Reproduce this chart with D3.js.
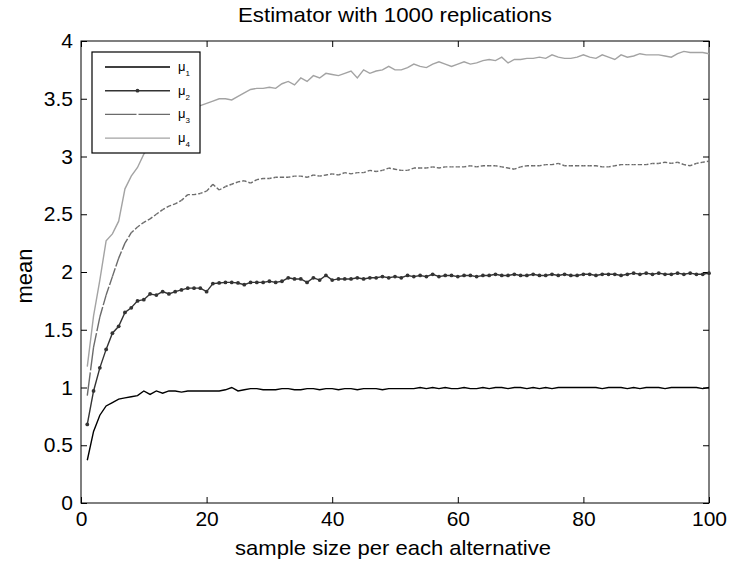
<!DOCTYPE html>
<html>
<head>
<meta charset="utf-8">
<script src="https://cdn.jsdelivr.net/npm/d3@7"></script>
<style>
  body { margin: 0; background: #fff; }
  text { font-family: "Liberation Sans", Arial, sans-serif; fill: #000; }
</style>
</head>
<body>
<div id="chart"></div>
<script>
// sample sizes 1..100
const sampleSize = d3.range(1, 101);

const mu1 = [0.37,0.62,0.76,0.84,0.87,0.90,0.91,0.92,0.93,0.97,
  0.94,0.97,0.95,0.97,0.97,0.96,0.97,0.97,0.97,0.97,
  0.97,0.97,0.98,1.00,0.97,0.98,0.99,0.99,0.98,0.98,
  0.98,0.99,0.99,0.98,0.98,0.99,0.99,0.98,0.99,0.99,
  0.98,0.99,0.99,0.98,0.99,0.99,0.99,0.98,0.99,0.99,
  0.99,0.99,0.99,1.00,0.99,1.00,0.99,1.00,0.99,0.99,
  1.00,0.99,0.99,1.00,0.99,1.00,1.00,0.99,1.00,1.00,
  0.99,1.00,0.99,1.00,0.99,1.00,1.00,1.00,1.00,1.00,
  1.00,1.00,0.99,1.00,1.00,1.00,0.99,1.00,0.99,1.00,
  1.00,1.00,0.99,1.00,1.00,1.00,1.00,1.00,0.99,1.00];

const mu2 = [0.68,0.97,1.17,1.33,1.47,1.53,1.65,1.69,1.75,1.76,
  1.81,1.80,1.83,1.81,1.83,1.845,1.86,1.86,1.86,1.83,
  1.90,1.905,1.91,1.91,1.905,1.89,1.91,1.91,1.91,1.92,
  1.91,1.92,1.95,1.94,1.94,1.91,1.95,1.93,1.97,1.93,
  1.94,1.94,1.94,1.95,1.94,1.95,1.95,1.96,1.95,1.96,
  1.95,1.97,1.96,1.97,1.96,1.98,1.96,1.97,1.97,1.96,
  1.97,1.97,1.96,1.97,1.97,1.98,1.97,1.97,1.98,1.97,
  1.97,1.98,1.97,1.97,1.98,1.97,1.98,1.97,1.97,1.98,
  1.98,1.97,1.98,1.98,1.98,1.97,1.98,1.99,1.98,1.99,
  1.98,1.99,1.98,1.98,1.99,1.98,1.99,1.98,1.98,1.99];

const mu3 = [0.93,1.35,1.61,1.80,1.96,2.12,2.25,2.34,2.39,2.43,
  2.46,2.50,2.54,2.57,2.59,2.62,2.67,2.67,2.68,2.70,
  2.76,2.71,2.74,2.76,2.78,2.79,2.77,2.80,2.81,2.81,
  2.82,2.82,2.82,2.83,2.83,2.82,2.84,2.83,2.84,2.85,
  2.84,2.86,2.85,2.86,2.86,2.88,2.87,2.88,2.90,2.89,
  2.88,2.88,2.90,2.90,2.90,2.91,2.90,2.91,2.91,2.91,
  2.91,2.92,2.91,2.92,2.92,2.92,2.91,2.90,2.89,2.91,
  2.92,2.92,2.92,2.93,2.93,2.94,2.92,2.92,2.92,2.92,
  2.92,2.92,2.91,2.91,2.92,2.93,2.93,2.93,2.93,2.93,
  2.94,2.94,2.95,2.94,2.95,2.93,2.92,2.94,2.95,2.96];

const mu4 = [1.18,1.62,1.93,2.27,2.33,2.44,2.72,2.83,2.905,3.02,
  3.10,3.17,3.22,3.27,3.31,3.35,3.38,3.42,3.44,3.46,
  3.48,3.50,3.50,3.49,3.52,3.55,3.58,3.59,3.59,3.60,
  3.59,3.63,3.65,3.62,3.68,3.65,3.70,3.68,3.72,3.71,
  3.70,3.72,3.74,3.68,3.75,3.72,3.74,3.75,3.78,3.75,
  3.75,3.77,3.80,3.78,3.77,3.80,3.82,3.80,3.78,3.80,
  3.82,3.80,3.81,3.83,3.84,3.83,3.86,3.81,3.84,3.84,
  3.85,3.85,3.86,3.85,3.88,3.86,3.85,3.85,3.86,3.88,
  3.86,3.85,3.88,3.86,3.84,3.88,3.86,3.87,3.89,3.88,
  3.88,3.88,3.87,3.86,3.89,3.91,3.90,3.90,3.90,3.89];

const xTicks = [0, 20, 40, 60, 80, 100];
const yTicks = [0, 0.5, 1, 1.5, 2, 2.5, 3, 3.5, 4];
const seriesNames = ["1", "2", "3", "4"];

const W = 729, H = 565;
const margin = {top: 41, right: 20, bottom: 62, left: 81};
const width = W - margin.left - margin.right,
      height = H - margin.top - margin.bottom;

const svg = d3.select("#chart").append("svg")
    .attr("width", W).attr("height", H);

const g = svg.append("g")
    .attr("transform", `translate(${margin.left},${margin.top})`);

const x = d3.scaleLinear().domain([0, 100]).range([0, width]);
const y = d3.scaleLinear().domain([0, 4]).range([height, 0]);

// title
svg.append("text")
    .attr("x", margin.left + width / 2)
    .attr("y", 22)
    .attr("text-anchor", "middle")
    .attr("textLength", 314)
    .attr("lengthAdjust", "spacingAndGlyphs")
    .style("font-size", "21px")
    .text("Estimator with 1000 replications");

// axes (matlab style: ticks pointing inward, box all round)
const tickLen = 6;
g.append("g")
    .attr("transform", `translate(0,${height})`)
    .call(d3.axisBottom(x).tickValues(xTicks).tickSize(-tickLen).tickPadding(8))
    .call(a => a.select(".domain").remove())
    .selectAll("text").style("font-size", "21px").attr("fill", "#000");

g.append("g")
    .call(d3.axisTop(x).tickValues(xTicks).tickSize(-tickLen).tickFormat(""))
    .call(a => a.select(".domain").remove());

g.append("g")
    .call(d3.axisLeft(y).tickValues(yTicks).tickSize(-tickLen).tickPadding(8).tickFormat(d3.format("")))
    .call(a => a.select(".domain").remove())
    .selectAll("text").style("font-size", "21px").attr("fill", "#000");

g.append("g")
    .attr("transform", `translate(${width},0)`)
    .call(d3.axisRight(y).tickValues(yTicks).tickSize(-tickLen).tickFormat(""))
    .call(a => a.select(".domain").remove());

g.selectAll(".tick line").attr("stroke", "#000");

g.append("rect")
    .attr("width", width).attr("height", height)
    .attr("fill", "none").attr("stroke", "#000").attr("stroke-width", 1);

// axis labels
svg.append("text")
    .attr("x", 393)
    .attr("y", 555)
    .attr("text-anchor", "middle")
    .attr("textLength", 316)
    .attr("lengthAdjust", "spacingAndGlyphs")
    .style("font-size", "21px")
    .text("sample size per each alternative");

svg.append("text")
    .attr("transform", `translate(32,276) rotate(-90)`)
    .attr("text-anchor", "middle")
    .style("font-size", "22px")
    .text("mean");

const line = d3.line()
    .x((d, i) => x(sampleSize[i]))
    .y(d => y(d));

const plot = g.append("g");

// mu4 light gray
plot.append("path").datum(mu4)
    .attr("d", line).attr("fill", "none")
    .attr("stroke", "#a3a3a3").attr("stroke-width", 1.4);

// mu3 dashed, dash pattern restarts on each segment (like matlab export)
const gap = 2;
plot.selectAll(".seg3")
    .data(d3.pairs(mu3.map((v, i) => [x(sampleSize[i]), y(v)])))
    .join("line")
    .attr("class", "seg3")
    .attr("x1", d => d[0][0]).attr("y1", d => d[0][1])
    .attr("x2", d => d[1][0]).attr("y2", d => d[1][1])
    .attr("stroke", "#6b6b6b").attr("stroke-width", 1.4)
    .attr("stroke-dasharray", d => {
      const L = Math.hypot(d[1][0] - d[0][0], d[1][1] - d[0][1]);
      const h = Math.max((L - gap) / 2, 0.5);
      return `${h},${gap},${L}`;
    });

// mu2 dark with dots
plot.append("path").datum(mu2)
    .attr("d", line).attr("fill", "none")
    .attr("stroke", "#333").attr("stroke-width", 1.4);
plot.selectAll(".dot2")
    .data(mu2)
    .join("circle")
    .attr("class", "dot2")
    .attr("cx", (d, i) => x(sampleSize[i]))
    .attr("cy", d => y(d))
    .attr("r", 1.9)
    .attr("fill", "#333");

// mu1 black
plot.append("path").datum(mu1)
    .attr("d", line).attr("fill", "none")
    .attr("stroke", "#000").attr("stroke-width", 1.4);

// legend
const leg = g.append("g").attr("transform", "translate(11,11)");
leg.append("rect")
    .attr("width", 108).attr("height", 101)
    .attr("fill", "#fff").attr("stroke", "#000").attr("stroke-width", 1.2);

const legStyles = [
  {color: "#000", dash: null, dot: false},
  {color: "#333", dash: null, dot: true},
  {color: "#6b6b6b", dash: "31.5,2,32", dot: false},
  {color: "#a3a3a3", dash: null, dot: false}
];

const rows = leg.selectAll(".legrow")
    .data(seriesNames)
    .join("g")
    .attr("class", "legrow")
    .attr("transform", (d, i) => `translate(0,${15 + i * 23.7})`);

rows.append("line")
    .attr("x1", 13).attr("x2", 78)
    .attr("stroke", (d, i) => legStyles[i].color)
    .attr("stroke-width", 1.4)
    .attr("stroke-dasharray", (d, i) => legStyles[i].dash);

rows.filter((d, i) => legStyles[i].dot)
    .append("circle")
    .attr("cx", 45.5).attr("r", 1.9).attr("fill", "#333");

const lbl = rows.append("text")
    .attr("x", 86).attr("y", 4)
    .style("font-size", "13px");
lbl.append("tspan").text("\u03bc");
lbl.append("tspan").attr("dy", 5).style("font-size", "8px").text(d => d);
</script>
</body>
</html>
